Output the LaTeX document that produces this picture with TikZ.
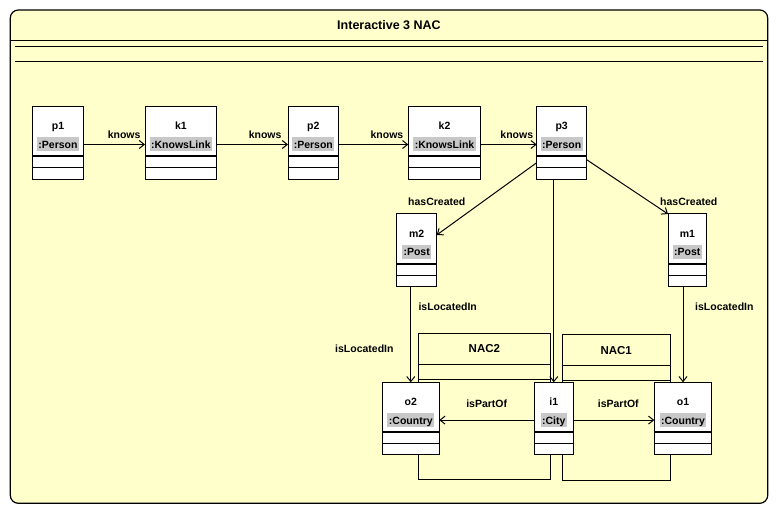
\documentclass[tikz,border=0pt]{standalone}
\usepackage{fontspec}
\setmainfont{Liberation Sans}
\usetikzlibrary{arrows.meta,calc}
\definecolor{bgyellow}{RGB}{255,255,204}
\definecolor{hlgray}{RGB}{200,200,200}
\tikzset{
  every node/.style={font=\fontsize{10.5}{12}\selectfont\bfseries},
  objbox/.style={draw, line width=1pt, fill=white, inner sep=0pt, outer sep=0pt, anchor=north west, minimum height=72.5pt},
  nacbox/.style={draw, line width=1pt, inner sep=0pt, outer sep=0pt, anchor=north west},
  typelbl/.style={fill=hlgray, inner xsep=1.5pt, inner ysep=1pt, text height=10pt, text depth=2pt, anchor=base},
  namelbl/.style={anchor=base, inner sep=0pt},
  conn/.style={line width=1pt, -{Straight Barb[length=5pt,width=8pt,line width=1pt]}},
  lbl/.style={inner sep=0pt},
}
\newcommand\objnode[6]{%
  \pgfmathsetmacro\objw{#3-#2}%
  \node[objbox, minimum width=\objw pt] (#1) at (#2,#4) {};
  \node[namelbl] (#1n) at ([yshift=-23pt]#1.north) {#5};
  \node[typelbl] (#1t) at ([yshift=-41.8pt]#1.north) {:#6};
  \draw[line width=2pt] ([yshift=-49.5pt]#1.north west) -- ([yshift=-49.5pt]#1.north east);
  \draw[line width=1pt] ([yshift=-61pt]#1.north west) -- ([yshift=-61pt]#1.north east);
}
\newcommand\nacnode[6]{%
  \pgfmathsetmacro\nacw{#3-#2}%
  \pgfmathsetmacro\nach{#5-#4}%
  \node[nacbox, minimum width=\nacw pt, minimum height=\nach pt] (#1) at (#2,#4) {};
  \node[namelbl, font=\fontsize{11.5}{13}\selectfont\bfseries] (#1n) at ([yshift=-19.5pt]#1.north) {#6};
  \draw[line width=1pt] ([yshift=-31pt]#1.north west) -- ([yshift=-31pt]#1.north east);
  \draw[line width=1pt] ([yshift=-46pt]#1.north west) -- ([yshift=-46pt]#1.north east);
}
\begin{document}
\begin{tikzpicture}[x=1pt,y=-1pt]
\useasboundingbox (0,0) rectangle (779,513);
% outer frame
\draw[line width=1.2pt, fill=bgyellow, rounded corners=8pt] (10.3,10) rectangle (767.7,503.3);
\node[lbl, anchor=base, font=\fontsize{12.5}{14}\selectfont\bfseries] (title) at (389,29.3) {Interactive 3 NAC};
\draw[line width=1.2pt] (10.3,40.5) -- (767.7,40.5);
\draw[line width=1pt] (15,46.5) -- (763,46.5);
\draw[line width=1pt] (15,62) -- (763,62);
% NAC frames
\nacnode{nac2}{418.7}{550}{333.3}{479.5}{NAC2}
\nacnode{nac1}{562.3}{670}{334.7}{480}{NAC1}
% objects
\objnode{p1}{32.7}{83.3}{106.7}{p1}{Person}
\objnode{k1}{145}{216.7}{106.7}{k1}{KnowsLink}
\objnode{p2}{288}{338.6}{106.7}{p2}{Person}
\objnode{k2}{408.3}{480.7}{106.7}{k2}{KnowsLink}
\objnode{p3}{536.7}{586.7}{106.7}{p3}{Person}
\objnode{m2}{396.7}{436.7}{214}{m2}{Post}
\objnode{m1}{668}{706.7}{214}{m1}{Post}
\objnode{o2}{382.3}{439.3}{382.3}{o2}{Country}
\objnode{i1}{534.3}{573.3}{382.3}{i1}{City}
\objnode{o1}{654.3}{711.7}{382.3}{o1}{Country}
% connectors
\draw[conn] (p1.east |- p1t.center) -- (k1.west |- p1t.center);
\draw[conn] (k1.east |- k1t.center) -- (p2.west |- k1t.center);
\draw[conn] (p2.east |- p2t.center) -- (k2.west |- p2t.center);
\draw[conn] (k2.east |- k2t.center) -- (p3.west |- k2t.center);
\draw[conn] ([yshift=-56pt]p3.north west) -- ([yshift=-21pt]m2.north east);
\draw[conn] ([yshift=-53pt]p3.north east) -- (m1.north west);
\draw[conn] (p3.south -| i1.north) -- (i1.north);
\draw[conn] (m2.south -| o2.north) -- (o2.north);
\draw[conn] (m1.south -| o1.north) -- (o1.north);
\draw[conn] (i1.west |- i1t.center) -- (o2.east |- i1t.center);
\draw[conn] (i1.east |- i1t.center) -- (o1.west |- i1t.center);
% labels
\node[lbl, anchor=base east] (l1) at (140.7,138.5) {knows};
\node[lbl, anchor=base east] (l2) at (281.7,138.5) {knows};
\node[lbl, anchor=base east] (l3) at (403.5,138.5) {knows};
\node[lbl, anchor=base east] (l4) at (533.3,138.5) {knows};
\node[lbl, anchor=base west] (l5) at (408,205.5) {hasCreated};
\node[lbl, anchor=base west] (l6) at (660,205.5) {hasCreated};
\node[lbl, anchor=base west] (l7) at (418.3,310.5) {isLocatedIn};
\node[lbl, anchor=base west] (l8) at (335,352.8) {isLocatedIn};
\node[lbl, anchor=base west] (l9) at (695,310.5) {isLocatedIn};
\node[lbl, anchor=base] (l10) at (486.7,407) {isPartOf};
\node[lbl, anchor=base] (l11) at (618.3,407) {isPartOf};
\end{tikzpicture}
\end{document}
